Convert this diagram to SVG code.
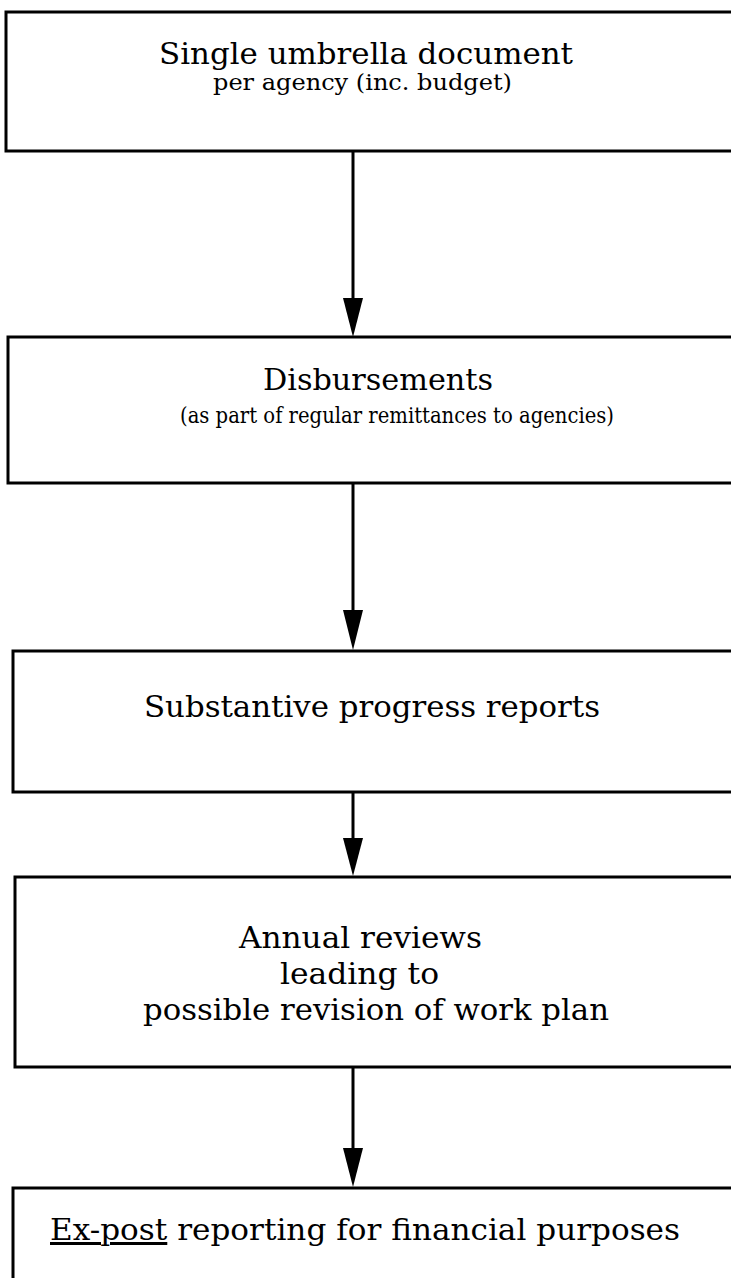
<svg xmlns="http://www.w3.org/2000/svg" width="731" height="1278" viewBox="0 0 731 1278">
  <style>
    .box { fill: #ffffff; stroke: #000000; stroke-width: 3; }
    .t { font-family: "DejaVu Serif", "Liberation Serif", serif; fill: #000000; }
    .big { font-size: 30px; }
    .small { font-size: 23px; }
    .flow line { stroke: #000000; stroke-width: 3; }
    .flow polygon { fill: #000000; }
  </style>
  <rect width="731" height="1278" fill="#ffffff"/>

  <g id="node-umbrella">
    <rect class="box" x="6" y="12" width="740" height="139"/>
    <text class="t big" x="159" y="64" textLength="414" lengthAdjust="spacingAndGlyphs">Single umbrella document</text>
    <text class="t small" x="213" y="90" textLength="299" lengthAdjust="spacingAndGlyphs">per agency (inc. budget)</text>
  </g>

  <g id="node-disbursements">
    <rect class="box" x="8" y="337" width="740" height="146"/>
    <text class="t big" x="263" y="390" textLength="230" lengthAdjust="spacingAndGlyphs">Disbursements</text>
    <text class="t small" x="180" y="423" textLength="434" lengthAdjust="spacingAndGlyphs">(as part of regular remittances to agencies)</text>
  </g>

  <g id="node-progress">
    <rect class="box" x="13" y="651" width="740" height="141"/>
    <text class="t big" x="144" y="717" textLength="456" lengthAdjust="spacingAndGlyphs">Substantive progress reports</text>
  </g>

  <g id="node-reviews">
    <rect class="box" x="15" y="877" width="740" height="190"/>
    <text class="t big" x="239" y="948" textLength="243" lengthAdjust="spacingAndGlyphs">Annual reviews</text>
    <text class="t big" x="280" y="984" textLength="159" lengthAdjust="spacingAndGlyphs">leading to</text>
    <text class="t big" x="143" y="1020" textLength="466" lengthAdjust="spacingAndGlyphs">possible revision of work plan</text>
  </g>

  <g id="node-expost">
    <rect class="box" x="13" y="1188" width="740" height="120"/>
    <text class="t big" x="50" y="1240" textLength="630" lengthAdjust="spacingAndGlyphs"><tspan text-decoration="underline">Ex-post</tspan> reporting for financial purposes</text>
  </g>

  <g id="connectors" class="flow">
    <line x1="353" y1="151" x2="353" y2="300"/>
    <polygon points="343,298 363,298 353,337"/>
    <line x1="353" y1="483" x2="353" y2="612"/>
    <polygon points="343,610 363,610 353,650"/>
    <line x1="353" y1="792" x2="353" y2="840"/>
    <polygon points="343,838 363,838 353,876"/>
    <line x1="353" y1="1067" x2="353" y2="1150"/>
    <polygon points="343,1148 363,1148 353,1187"/>
  </g>
</svg>
